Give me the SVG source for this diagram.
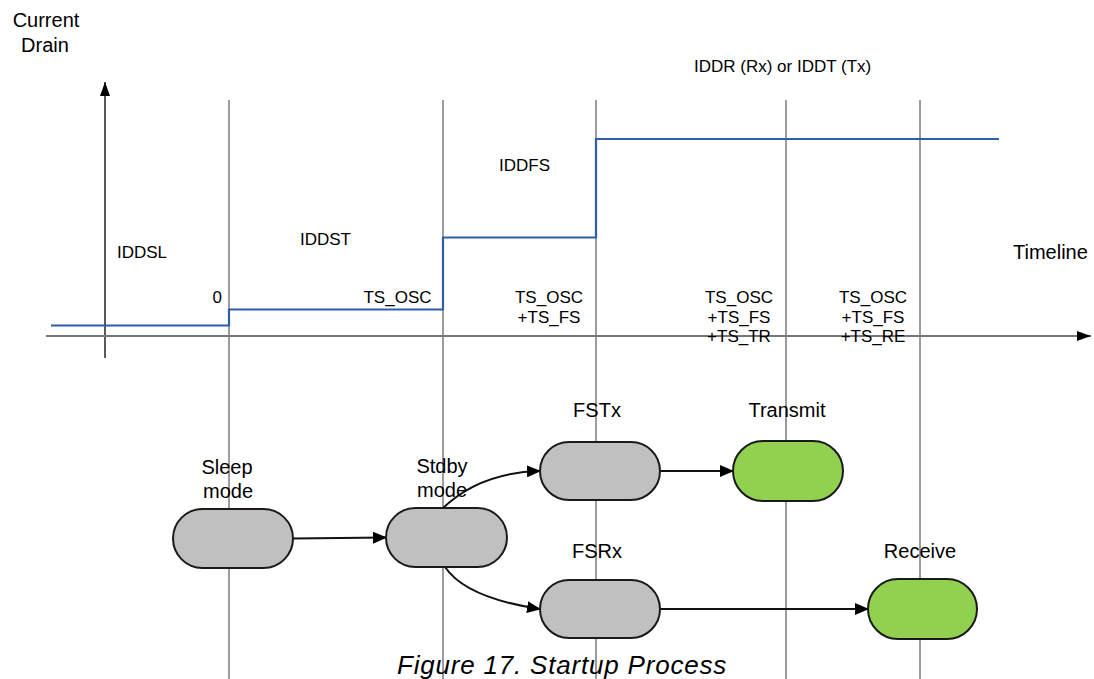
<svg xmlns="http://www.w3.org/2000/svg" width="1094" height="679" viewBox="0 0 1094 679">
<style>
text{font-family:"Liberation Sans",Arial,sans-serif;fill:#000}
.s{font-size:17px}
.m{font-size:20px}
.c{text-anchor:middle}
.grid{stroke:#3a3a3a;stroke-width:1;fill:none}
.node rect{stroke:#1a1a1a;stroke-width:2}
.gray{fill:#c0c0c0}
.green{fill:#92d050}
.conn{stroke:#111;stroke-width:2;fill:none;marker-end:url(#ah)}
</style>
<defs>
<marker id="ah" markerWidth="14" markerHeight="12" refX="13" refY="6" orient="auto" markerUnits="userSpaceOnUse">
<path d="M0,0 L14,6 L0,12 z" fill="#000"/>
</marker>
<marker id="axh" markerWidth="14" markerHeight="10" refX="14" refY="5" orient="auto" markerUnits="userSpaceOnUse">
<path d="M0,0 L14,5 L0,10 z" fill="#000"/>
</marker>
</defs>
<rect width="1094" height="679" fill="#fff"/>
<g id="grid">
<line class="grid" x1="229" y1="100" x2="229" y2="679"/>
<line class="grid" x1="443" y1="100" x2="443" y2="679"/>
<line class="grid" x1="596" y1="100" x2="596" y2="679"/>
<line class="grid" x1="786" y1="100" x2="786" y2="679"/>
<line class="grid" x1="920" y1="100" x2="920" y2="679"/>
</g>
<g id="axes">
<line x1="105" y1="358" x2="105" y2="82" stroke="#000" stroke-width="1.3" marker-end="url(#axh)"/>
<line x1="46" y1="336" x2="1091" y2="336" stroke="#777" stroke-width="2" marker-end="url(#axh)"/>
<text class="m" x="46" y="27" text-anchor="middle">Current</text>
<text class="m" x="45" y="52" text-anchor="middle">Drain</text>
<text class="m" x="1013" y="259">Timeline</text>
</g>
<g id="current">
<polyline points="51,325.5 229,325.5 229,309.5 443,309.5 443,237.5 596,237.5 596,139 999,139" fill="none" stroke="#2e5ea9" stroke-width="2.2"/>
<text class="s" x="117" y="258">IDDSL</text>
<text class="s" x="300" y="245">IDDST</text>
<text class="s" x="499" y="171">IDDFS</text>
<text class="s" x="694" y="72">IDDR (Rx) or IDDT (Tx)</text>
</g>
<g id="times">
<text class="s" x="222" y="303" text-anchor="end">0</text>
<text class="s c" x="397.5" y="303">TS_OSC</text>
<text class="s c" x="549" y="303">TS_OSC</text>
<text class="s c" x="549" y="323">+TS_FS</text>
<text class="s c" x="739" y="303">TS_OSC</text>
<text class="s c" x="739" y="323">+TS_FS</text>
<text class="s c" x="739" y="342">+TS_TR</text>
<text class="s c" x="873" y="303">TS_OSC</text>
<text class="s c" x="873" y="323">+TS_FS</text>
<text class="s c" x="873" y="342">+TS_RE</text>
</g>
<g id="connectors">
<path class="conn" d="M293,538.5 L386,537.5"/>
<path class="conn" d="M443,508 C468,484 500,472 540,471"/>
<path class="conn" d="M445,567 C462,592 500,603 540,609"/>
<path class="conn" d="M660,471 L733,471"/>
<path class="conn" d="M660,609 L868,609"/>
</g>
<g id="sleep" class="node">
<rect class="gray" x="173" y="509" width="120" height="59" rx="29.5"/>
<text class="m c" x="227" y="474">Sleep</text>
<text class="m c" x="228" y="498">mode</text>
</g>
<g id="stdby" class="node">
<rect class="gray" x="386" y="508" width="121" height="59" rx="29.5"/>
<text class="m c" x="442" y="473">Stdby</text>
<text class="m c" x="442" y="497">mode</text>
</g>
<g id="fstx" class="node">
<rect class="gray" x="540" y="442" width="120" height="58" rx="29"/>
<text class="m c" x="597" y="417">FSTx</text>
</g>
<g id="transmit" class="node">
<rect class="green" x="733" y="441" width="110" height="60" rx="30"/>
<text class="m c" x="787" y="417">Transmit</text>
</g>
<g id="fsrx" class="node">
<rect class="gray" x="540" y="580" width="120" height="58" rx="29"/>
<text class="m c" x="597" y="558">FSRx</text>
</g>
<g id="receive" class="node">
<rect class="green" x="868" y="579" width="109" height="60" rx="30"/>
<text class="m c" x="920" y="558">Receive</text>
</g>
<text x="397" y="674" font-size="26" font-style="italic" letter-spacing="0.8" style="font-family:'Liberation Sans',Arial,sans-serif">Figure 17. Startup Process</text>
</svg>
